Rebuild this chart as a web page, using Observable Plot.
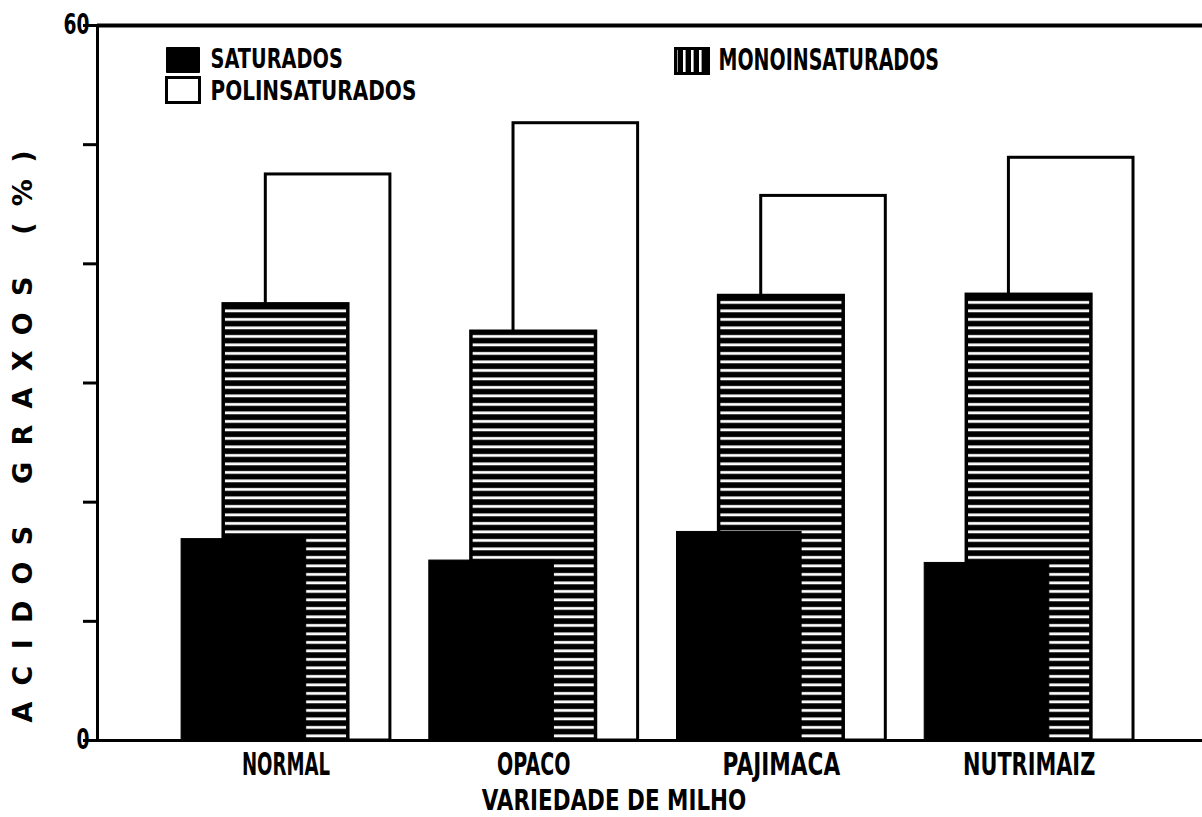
<!DOCTYPE html>
<html><head><meta charset="utf-8">
<script src="https://cdn.jsdelivr.net/npm/d3@7"></script>
<script src="https://cdn.jsdelivr.net/npm/@observablehq/plot@0.6"></script>
<style>html,body{margin:0;padding:0;background:#fff;} svg{display:block}</style>
</head><body><div id="chart"></div>
<script>
const varieties = ["NORMAL", "OPACO", "PAJIMACA", "NUTRIMAIZ"];
const saturados = [16.9, 15.1, 17.5, 14.9];
const monoinsaturados = [36.6, 34.3, 37.3, 37.4];
const polinsaturados = [47.5, 51.8, 45.7, 48.9];
const seriesNames = ["SATURADOS", "MONOINSATURADOS", "POLINSATURADOS"];
const yTicks = [0, 10, 20, 30, 40, 50, 60];
const yTickLabels = ["0", "", "", "", "", "", "60"];
const yTitle = "ACIDOS GRAXOS (%)";
const xTitle = "VARIEDADE DE MILHO";

const BAR_W = 0.503, OFF = 0.17;
const xDomain = [-0.761, 3.70];
const rows = [];
varieties.forEach((v, i) => {
  rows.push({v, i, s: seriesNames[2], val: polinsaturados[i], off: OFF});
  rows.push({v, i, s: seriesNames[1], val: monoinsaturados[i], off: 0});
  rows.push({v, i, s: seriesNames[0], val: saturados[i], off: -OFF});
});
const bars = (name, opts) => Plot.rect(rows.filter(d => d.s === name), {
  x1: d => d.i + d.off - BAR_W / 2,
  x2: d => d.i + d.off + BAR_W / 2,
  y1: 0, y2: "val", ...opts
});
const swatch = {draw(ctx) { ctx.rect(-16.5, -12.5, 33, 25); }};

const svg = Plot.plot({
  width: 1202, height: 817,
  marginLeft: 97, marginRight: 0, marginTop: 25, marginBottom: 77,
  x: {domain: xDomain, axis: null},
  y: {domain: [0, 60], axis: null},
  style: {fontFamily: "'DejaVu Sans', sans-serif", fontWeight: "bold", background: "white", color: "black", overflow: "visible"},
  marks: [
    bars(seriesNames[2], {fill: "white", stroke: "black", strokeWidth: 3}),
    bars(seriesNames[1], {fill: "url(#hstripes)", stroke: "black", strokeWidth: 3.5}),
    bars(seriesNames[0], {fill: "black", stroke: "black", strokeWidth: 1}),
    Plot.ruleY([60], {strokeWidth: 4}),
    Plot.ruleY([0], {strokeWidth: 3}),
    Plot.ruleX([xDomain[0]], {y1: 0, y2: 60, strokeWidth: 3}),
    Plot.axisY({ticks: yTicks, tickSize: 14, tickPadding: -6, strokeWidth: 3, fontSize: 28,
      tickFormat: d => yTickLabels[yTicks.indexOf(d)], label: null}),
    Plot.text(varieties, {x: (d, i) => i, frameAnchor: "bottom", lineAnchor: "top", dy: 12, fontSize: 32, text: d => d}),
    Plot.text([xTitle], {frameAnchor: "bottom", lineAnchor: "top", dx: -36, dy: 50, fontSize: 28, text: d => d}),
    Plot.text([yTitle], {frameAnchor: "bottom-left", textAnchor: "start", rotate: -90, dx: -66, dy: -18, fontSize: 27, text: d => d}),
    // legend
    Plot.dot([0], {frameAnchor: "top-left", dx: 85.5, dy: 34.5, symbol: swatch, fill: "black", stroke: "black", strokeWidth: 1}),
    Plot.text([seriesNames[0]], {frameAnchor: "top-left", dx: 113, dy: 34, textAnchor: "start", lineAnchor: "middle", fontSize: 26, text: d => d}),
    Plot.dot([0], {frameAnchor: "top-left", dx: 85.5, dy: 64.5, symbol: swatch, fill: "white", stroke: "black", strokeWidth: 3}),
    Plot.text([seriesNames[2]], {frameAnchor: "top-left", dx: 113, dy: 66, textAnchor: "start", lineAnchor: "middle", fontSize: 26, text: d => d}),
    Plot.dot([0], {frameAnchor: "top-left", dx: 594.5, dy: 35.5, symbol: swatch, fill: "url(#vstripes)", stroke: "black", strokeWidth: 3}),
    Plot.text([seriesNames[1]], {frameAnchor: "top-left", dx: 621, dy: 35, textAnchor: "start", lineAnchor: "middle", fontSize: 30, text: d => d})
  ]
});

const defs = d3.select(svg).insert("defs", ":first-child");
const hp = defs.append("pattern").attr("id", "hstripes").attr("patternUnits", "userSpaceOnUse")
  .attr("width", 10).attr("height", 8.5).attr("y", 740 % 8.5);
hp.append("rect").attr("width", 10).attr("height", 8.5).attr("fill", "black");
hp.append("rect").attr("y", 3).attr("width", 10).attr("height", 2.8).attr("fill", "white");
const vp = defs.append("pattern").attr("id", "vstripes").attr("patternUnits", "userSpaceOnUse")
  .attr("width", 8).attr("height", 10).attr("x", 676 % 8);
vp.append("rect").attr("width", 8).attr("height", 10).attr("fill", "black");
vp.append("rect").attr("x", 3).attr("width", 2.6).attr("height", 10).attr("fill", "white");

d3.select(svg).selectAll("text").each(function () {
  const t = this.textContent.trim();
  if (!t) return;
  if (t === yTitle) {
    this.setAttribute("textLength", 572);
    this.setAttribute("lengthAdjust", "spacing");
  } else if (/^\d+$/.test(t)) {
    this.style.fontSize = "28px";
    this.setAttribute("textLength", t.length * 13);
    this.setAttribute("lengthAdjust", "spacingAndGlyphs");
  } else {
    this.setAttribute("textLength", t.length * 14.7);
    this.setAttribute("lengthAdjust", "spacingAndGlyphs");
  }
});
document.getElementById("chart").appendChild(svg);
</script></body></html>
